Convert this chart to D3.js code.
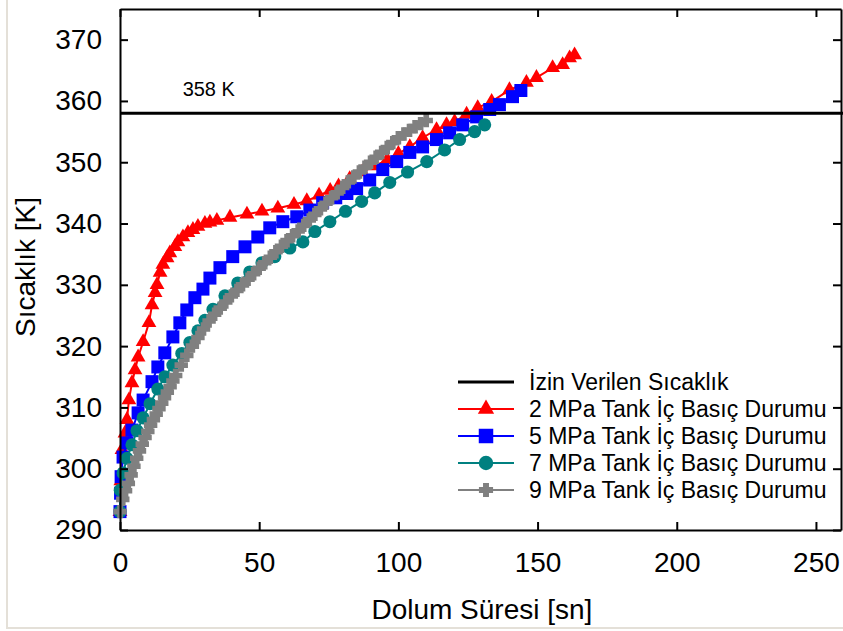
<!DOCTYPE html>
<html>
<head>
<meta charset="utf-8">
<script src="https://cdn.jsdelivr.net/npm/d3@7"></script>
<style>
  body { margin: 0; background: #fff; }
  svg { display: block; font-family: "Liberation Sans", Arial, sans-serif; }
</style>
</head>
<body>
<div id="chart"></div>
<script>
// ----- data -----
let xTicks = [0, 50, 100, 150, 200, 250];
let yTicks = [290, 300, 310, 320, 330, 340, 350, 360, 370];
let limitTemp = 358;

let names = [
    "2 MPa Tank İç Basıç Durumu",
    "5 MPa Tank İç Basıç Durumu",
    "7 MPa Tank İç Basıç Durumu",
    "9 MPa Tank İç Basıç Durumu"
];
let colors = ["#ff0000", "#0000ff", "#008080", "#808080"];

let time2 = [0, 0.3, 0.7, 1.8, 2.5, 3.2, 4.3, 5.4, 6.5, 8.3, 10.4, 11.5, 12.6, 13.3, 14.4, 15.4, 16.9, 17.9, 19.7, 20.8, 22.6, 24.4, 26.2, 28.0, 30.5, 32.3, 34.8, 39.5, 45.6, 51.0, 56.7, 62.5, 67.1, 71.5, 75.5, 78.5, 82.5, 87, 91.5, 96, 100, 104.1, 108.7, 113.7, 117.3, 120.2, 124.5, 128.5, 133.5, 139.9, 146.0, 149.6, 155.4, 159.0, 161.5, 163.3];
let temp2 = [293, 298, 303.1, 305.8, 308.0, 311.2, 314.0, 316.1, 318.2, 320.7, 323.8, 326.7, 328.7, 330.0, 332.0, 333.3, 334.4, 335.2, 336.2, 337.0, 337.8, 338.5, 339.0, 339.5, 340.0, 340.2, 340.5, 341.0, 341.5, 342.0, 342.5, 343.1, 343.7, 344.6, 345.4, 346.1, 347.3, 348.4, 349.4, 350.4, 351.4, 352.5, 354.0, 355.3, 356.1, 356.6, 357.8, 358.9, 359.9, 361.8, 363.0, 363.8, 365.4, 365.9, 367.0, 367.5];

let time5 = [0, 0.2, 0.4, 1.1, 2.5, 4.3, 6.5, 8.3, 11.5, 13.6, 16.1, 19.0, 21.5, 24.0, 26.9, 29.8, 32.3, 35.9, 40.5, 44.9, 49.5, 53.8, 58.5, 63.5, 68.2, 72.8, 77.5, 81.5, 85.0, 89.7, 94.4, 99.4, 104.1, 108.7, 113.7, 118.4, 123.1, 128.1, 132.8, 136.3, 141.0, 144.0];
let temp5 = [293, 296, 298.7, 301.9, 304.2, 306.3, 309.1, 311.2, 314.2, 316.6, 318.9, 321.5, 323.8, 325.9, 327.9, 329.3, 331.1, 332.8, 334.6, 336.2, 337.8, 339.3, 340.3, 341.1, 342.2, 343.4, 344.2, 344.9, 345.7, 347.1, 348.8, 350.1, 351.6, 352.5, 353.7, 354.8, 356.1, 357.4, 358.6, 359.4, 360.7, 361.7];

let time7 = [0, 0.1, 1.1, 2.5, 4.3, 6.1, 8.3, 10.8, 13.6, 16.1, 19.0, 22.2, 25.1, 28.0, 30.5, 33.4, 37.7, 42.3, 46.6, 51.0, 55.6, 61.0, 65.7, 70.0, 75.4, 81.0, 86.8, 91.5, 96.9, 103.3, 110.2, 116.6, 122.0, 127.4, 131.0];
let temp7 = [293, 296.5, 299.3, 301.7, 303.9, 306.2, 308.3, 310.6, 313.0, 315.0, 316.9, 318.8, 320.6, 322.5, 324.2, 326.0, 328.2, 330.3, 332.1, 333.6, 334.6, 336.0, 337.0, 338.7, 340.3, 342.0, 343.6, 345.0, 346.7, 348.4, 350.1, 352.0, 353.7, 355.0, 356.1];

let time9 = [0, 1, 2, 3, 4, 5, 6, 7, 8, 9, 10, 11, 12, 13, 14, 15, 16, 17, 18, 19, 20, 22, 24, 26, 28, 30, 32, 34, 36, 38, 40, 42, 44, 46, 48, 50, 52, 54, 56, 58, 60, 62, 64, 66, 68, 70, 72, 74, 76, 78, 80, 82, 84, 86, 88, 90, 92, 94, 96, 98, 100, 102, 104, 106, 108, 110];
let temp9 = [293.0, 295.0, 296.4, 297.6, 299.0, 300.4, 301.7, 302.9, 304.0, 305.1, 306.1, 307.1, 308.0, 308.9, 309.8, 310.7, 311.6, 312.5, 313.4, 314.3, 315.2, 316.9, 318.5, 320.0, 321.4, 322.8, 324.1, 325.2, 326.2, 327.2, 328.2, 329.1, 330.0, 330.9, 331.8, 332.7, 333.6, 334.5, 335.4, 336.3, 337.2, 338.0, 338.8, 339.7, 340.6, 341.5, 342.4, 343.3, 344.2, 345.0, 345.9, 346.8, 347.6, 348.4, 349.2, 350.0, 350.8, 351.6, 352.4, 353.2, 354.0, 354.6, 355.2, 355.8, 356.3, 356.8];

let allTimes = [time2, time5, time7, time9];
let allTemps = [temp2, temp5, temp7, temp9];

// ----- drawing -----
let svgWidth = 843;
let svgHeight = 631;
let margin = { top: 9, right: 2, bottom: 101, left: 120 };
let width = svgWidth - margin.left - margin.right;
let height = svgHeight - margin.top - margin.bottom;

let svg = d3.select("#chart")
    .append("svg")
    .attr("width", svgWidth)
    .attr("height", svgHeight);

// light outer frame of the original figure
svg.append("rect")
    .attr("x", 7)
    .attr("y", -5)
    .attr("width", 850)
    .attr("height", 633)
    .attr("fill", "none")
    .attr("stroke", "#e4e0d8")
    .attr("stroke-width", 2);

let x = d3.scaleLinear().domain([0, 259]).range([0, width]);
let y = d3.scaleLinear().domain([290, 375]).range([height, 0]);

let plot = svg.append("g")
    .attr("transform", `translate(${margin.left}, ${margin.top})`);

// fat plus sign like the grey markers of the original
let thickCross = {
    draw(context, size) {
        let h = Math.sqrt(size) / 2;
        let a = h * 0.42;
        context.moveTo(-a, -h);
        context.lineTo(a, -h);
        context.lineTo(a, -a);
        context.lineTo(h, -a);
        context.lineTo(h, a);
        context.lineTo(a, a);
        context.lineTo(a, h);
        context.lineTo(-a, h);
        context.lineTo(-a, a);
        context.lineTo(-h, a);
        context.lineTo(-h, -a);
        context.lineTo(-a, -a);
        context.closePath();
    }
};

let markers = [
    d3.symbol().type(d3.symbolTriangle).size(95),
    d3.symbol().type(d3.symbolSquare).size(169),
    d3.symbol().type(d3.symbolCircle).size(135),
    d3.symbol().type(thickCross).size(180)
];

let line = d3.line()
    .x(d => x(d[0]))
    .y(d => y(d[1]));

for (let s = 0; s < names.length; s++) {
    let points = allTimes[s].map((t, i) => [t, allTemps[s][i]]);
    let g = plot.append("g");
    g.append("path")
        .datum(points)
        .attr("fill", "none")
        .attr("stroke", colors[s])
        .attr("stroke-width", 2)
        .attr("d", line);
    g.selectAll("path.mk")
        .data(points)
        .enter()
        .append("path")
        .attr("class", "mk")
        .attr("fill", colors[s])
        .attr("transform", d => `translate(${x(d[0])}, ${y(d[1])})`)
        .attr("d", markers[s]);
}

// allowed temperature line
plot.append("line")
    .attr("x1", 0)
    .attr("x2", width + 5)
    .attr("y1", y(limitTemp))
    .attr("y2", y(limitTemp))
    .attr("stroke", "black")
    .attr("stroke-width", 3);

plot.append("text")
    .attr("x", x(22.5))
    .attr("y", y(limitTemp) - 17)
    .attr("font-size", 20)
    .text(limitTemp + " K");

// axes, ticks pointing inward on all four sides
let axisBottom = d3.axisBottom(x).tickValues(xTicks).tickSizeInner(-8).tickSizeOuter(0).tickPadding(22);
let axisTop = d3.axisTop(x).tickValues(xTicks).tickSizeInner(-8).tickSizeOuter(0).tickFormat("");
let axisLeft = d3.axisLeft(y).tickValues(yTicks).tickSizeInner(-8).tickSizeOuter(0).tickPadding(18);
let axisRight = d3.axisRight(y).tickValues(yTicks).tickSizeInner(-8).tickSizeOuter(0).tickFormat("");

let gx = plot.append("g").attr("transform", `translate(0, ${height})`).call(axisBottom);
let gt = plot.append("g").call(axisTop);
let gy = plot.append("g").call(axisLeft);
let gr = plot.append("g").attr("transform", `translate(${width}, 0)`).call(axisRight);

[gx, gt, gy, gr].forEach(g => {
    g.selectAll("path, line").attr("stroke", "black").attr("stroke-width", 2);
    g.selectAll("text")
        .attr("fill", "black")
        .attr("font-size", 28)
        .attr("font-family", "'Liberation Sans', Arial, sans-serif");
});

// axis titles
svg.append("text")
    .attr("x", margin.left + x(130))
    .attr("y", 619)
    .attr("text-anchor", "middle")
    .attr("font-size", 28)
    .text("Dolum Süresi [sn]");

svg.append("text")
    .attr("transform", "translate(35, 267) rotate(-90)")
    .attr("text-anchor", "middle")
    .attr("font-size", 28)
    .text("Sıcaklık [K]");

// legend
let legend = svg.append("g").attr("transform", "translate(458, 382)");
let legendNames = ["İzin Verilen Sıcaklık"].concat(names);
let legendColors = ["black"].concat(colors);
let legendMarkers = [null,
    d3.symbol().type(d3.symbolTriangle).size(115),
    d3.symbol().type(d3.symbolSquare).size(210),
    d3.symbol().type(d3.symbolCircle).size(165),
    d3.symbol().type(thickCross).size(200)
];

legendNames.forEach((name, i) => {
    let row = legend.append("g").attr("transform", `translate(0, ${i * 27})`);
    row.append("line")
        .attr("x1", 0)
        .attr("x2", 56)
        .attr("stroke", legendColors[i])
        .attr("stroke-width", i == 0 ? 3 : 2);
    if (legendMarkers[i]) {
        row.append("path")
            .attr("transform", "translate(28, 0)")
            .attr("fill", legendColors[i])
            .attr("d", legendMarkers[i]);
    }
    row.append("text")
        .attr("x", 71)
        .attr("y", 8)
        .attr("font-size", 23)
        .text(name);
});
</script>
</body>
</html>
